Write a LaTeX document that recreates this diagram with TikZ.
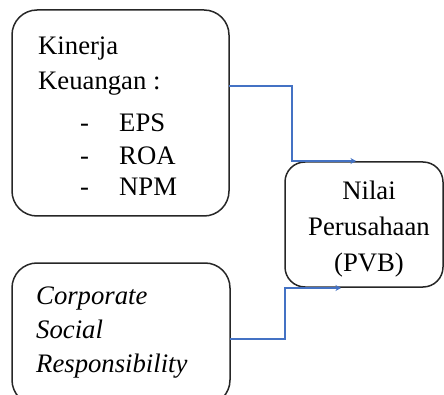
\documentclass[tikz,border=0pt]{standalone}
\usepackage{fontspec}
\setmainfont{Liberation Serif}
\usetikzlibrary{arrows.meta,calc}
\tikzset{
  box/.style={draw=black!85, line width=1.5pt, rounded corners=#1},
  txt/.style={anchor=base west, inner sep=0pt, font=\fontsize{26.7}{32}\selectfont},
  ctxt/.style={anchor=base, inner sep=0pt, font=\fontsize{26.7}{32}\selectfont},
  conn/.style={draw=arrowblue, line width=1.3pt, -{Stealth[length=5.5pt,width=6pt]}},
}
\definecolor{arrowblue}{RGB}{68,114,196}
\begin{document}
\begin{tikzpicture}[x=1pt,y=-1pt]
\useasboundingbox (0,0) rectangle (444,395);
% boxes
\draw[box=25pt] (12,10) rectangle (229,216);
\draw[box=20pt] (285,162) rectangle (443,287);
\draw[box=25pt] (12,263) rectangle (230,405);
% texts
\node[txt] (t1) at (38,55) {Kinerja};
\node[txt] (t2) at (38,90) {Keuangan :};
\node[txt] (d1) at (80,132) {-};
\node[txt] (e1) at (119,132) {EPS};
\node[txt] (d2) at (80,165) {-};
\node[txt] (e2) at (119,165) {ROA};
\node[txt] (d3) at (80,196) {-};
\node[txt] (e3) at (119,196) {NPM};
\node[ctxt] (n1) at (369,200) {Nilai};
\node[ctxt] (n2) at (369,236) {Perusahaan};
\node[ctxt] (n3) at (369,271) {(PVB)};
\node[txt] (c1) at (36,304) {\itshape Corporate};
\node[txt] (c2) at (36,338) {\itshape Social};
\node[txt] (c3) at (36,372) {\itshape Responsibility};
% connectors
\coordinate (s1) at (229,86);
\coordinate (k1) at (292,161);
\coordinate (e1a) at (356,161);
\coordinate (s2) at (230,339);
\coordinate (k2) at (285,288);
\coordinate (e2a) at (341,288);
\draw[conn] (s1) -| (k1) -- (e1a);
\draw[conn] (s2) -| (k2) -- (e2a);
\end{tikzpicture}
\end{document}
